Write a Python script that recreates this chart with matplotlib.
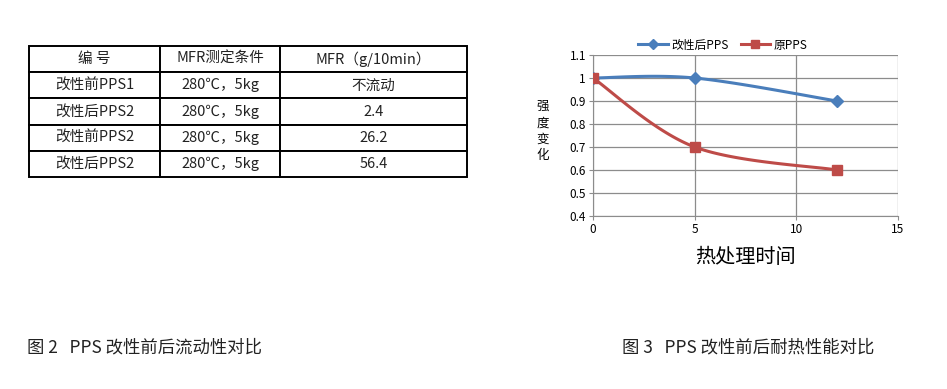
import numpy as np
import matplotlib.pyplot as plt
from matplotlib.lines import Line2D

plt.rcParams['font.family'] = ['Noto Sans CJK SC', 'DejaVu Sans']

# table data
col_labels = ['编 号', 'MFR测定条件', 'MFR（g/10min）']
row_names = ['改性前PPS1', '改性后PPS2', '改性前PPS2', '改性后PPS2']
conditions = ['280℃，5kg'] * 4
mfr_values = ['不流动', '2.4', '26.2', '56.4']

# chart data
heat_time = [0, 5, 12]
modified_pps = [1.0, 1.0, 0.9]
original_pps = [1.0, 0.7, 0.6]

W, H = 947, 389
fig = plt.figure(figsize=(W / 100, H / 100), dpi=100)


def px_axes(x0, y0, x1, y1):
    return fig.add_axes([x0 / W, 1 - y1 / H, (x1 - x0) / W, (y1 - y0) / H])


# ---- table ----
tax = px_axes(29, 46, 467, 177)
tax.axis('off')
cells = [col_labels] + [[r, c, m] for r, c, m in zip(row_names, conditions, mfr_values)]
widths = np.array([131, 120, 187], dtype=float)
tbl = tax.table(cellText=cells, colWidths=list(widths / widths.sum()),
                cellLoc='center', bbox=[0, 0, 1, 1])
tbl.auto_set_font_size(False)
for (r, c), cell in tbl.get_celld().items():
    cell.set_edgecolor('black')
    cell.set_linewidth(1.4)
    cell.get_text().set_fontsize(10.5)
    cell.get_text().set_color('#222222')

fig.text(27 / W, 1 - 347 / H, '图 2   PPS 改性前后流动性对比', fontsize=12.5,
         va='center', ha='left', color='#222222')


# ---- chart ----
def smooth_path(xs, ys, n=40):
    pts = np.column_stack([xs, ys]).astype(float)
    ext = np.vstack([pts[0], pts, pts[-1]])
    out = [pts[0]]
    t = np.linspace(0, 1, n)[1:, None]
    for i in range(1, len(ext) - 2):
        p0, p1, p2, p3 = ext[i - 1], ext[i], ext[i + 1], ext[i + 2]
        c1 = p1 + (p2 - p0) / 6
        c2 = p2 - (p3 - p1) / 6
        seg = ((1 - t) ** 3 * p1 + 3 * (1 - t) ** 2 * t * c1
               + 3 * (1 - t) * t ** 2 * c2 + t ** 3 * p2)
        out.extend(seg)
    out = np.array(out)
    return out[:, 0], out[:, 1]


ax = px_axes(593, 55, 898, 216)
blue = '#4a7ebb'
red = '#be4b48'
bx, by = smooth_path(heat_time, modified_pps)
rx, ry = smooth_path(heat_time, original_pps)
ax.plot(bx, by, color=blue, lw=2.2, zorder=3)
ax.plot(rx, ry, color=red, lw=2.2, zorder=3)
ax.plot(heat_time, modified_pps, 'D', color=blue, ms=6, zorder=4)
ax.plot(heat_time, original_pps, 's', color=red, ms=7, zorder=4)

ax.set_xlim(0, 15)
ax.set_ylim(0.4, 1.1)
ax.set_xticks([0, 5, 10, 15])
ax.set_yticks(np.arange(0.4, 1.11, 0.1))
ax.set_yticklabels(['0.4', '0.5', '0.6', '0.7', '0.8', '0.9', '1', '1.1'])
ax.grid(True, color='#8c8c8c', lw=0.9)
ax.set_axisbelow(True)
for s in ['top', 'right']:
    ax.spines[s].set_visible(False)
for s in ['left', 'bottom']:
    ax.spines[s].set_color('#8c8c8c')
ax.tick_params(labelsize=8.5, length=3, color='#8c8c8c', pad=2)
ax.set_xlabel('热处理时间', fontsize=14.5, labelpad=8)

fig.text(543 / W, 1 - 131 / H, '强\n度\n变\n化', fontsize=9, ha='center',
         va='center', linespacing=1.35)

handles = [Line2D([], [], color=blue, lw=2.2, marker='D', ms=5),
           Line2D([], [], color=red, lw=2.2, marker='s', ms=6)]
fig.legend(handles, ['改性后PPS', '原PPS'], loc='center',
           bbox_to_anchor=(723 / W, 1 - 45 / H), ncol=2, frameon=False,
           fontsize=8.5, handlelength=2.5, columnspacing=1.0, handletextpad=0.3)

fig.text(622 / W, 1 - 347 / H, '图 3   PPS 改性前后耐热性能对比', fontsize=12.5,
         va='center', ha='left', color='#222222')

fig.savefig('out.png', dpi=100)
